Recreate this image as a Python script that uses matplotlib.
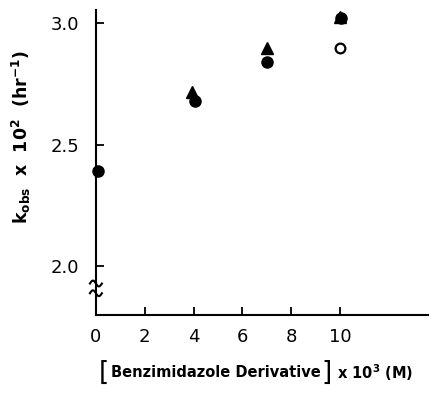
import matplotlib
matplotlib.use("Agg")
import matplotlib.pyplot as plt
import numpy as np

# data
conc_circle = [0.08, 4.05, 7.0, 10.05]
k_circle = [2.39, 2.677, 2.84, 3.02]
conc_tri = [3.95, 7.0, 10.0]
k_tri = [2.715, 2.895, 3.025]
conc_open = [10.0]
k_open = [2.895]

fig = plt.figure(figsize=(4.34, 3.93), dpi=100)
ax = fig.add_axes([0.221, 0.198, 0.765, 0.777])

ax.plot(conc_tri, k_tri, '^', color='black', markersize=9, clip_on=False)
ax.plot(conc_circle, k_circle, 'o', color='black', markersize=8, clip_on=False)
ax.plot(conc_open, k_open, 'o', mfc='white', mec='black', mew=1.6, markersize=7, clip_on=False)

ax.set_xlim(0, 13.6)
ax.set_ylim(1.80, 3.053)
ax.set_xticks([0, 2, 4, 6, 8, 10])
ax.set_xticklabels(['0', '2', '4', '6', '8', '10'])
ax.set_yticks([2.0, 2.5, 3.0])
ax.set_yticklabels(['2.0', '2.5', '3.0'])

for s in ['top', 'right']:
    ax.spines[s].set_visible(False)
for s in ['left', 'bottom']:
    ax.spines[s].set_linewidth(1.5)
ax.tick_params(direction='in', length=6, width=1.3, labelsize=13)
ax.tick_params(axis='y', pad=12)
ax.tick_params(axis='x', pad=9)

# axis break squiggles
t = np.linspace(0, 1, 30)
wx = -0.018 + 0.036 * t
wy = 0.012 * np.sin(2 * np.pi * t)
for yb in [1.93, 1.89]:
    ax.plot(wx, yb + wy, color='black', lw=1.5, clip_on=False,
            transform=ax.get_yaxis_transform())

ax.set_ylabel(r'k$_{\mathbf{obs}}$  x  10$^{\mathbf{2}}$  (hr$^{\mathbf{-1}}$)',
              fontsize=12.5, fontweight='bold', va='center')
ax.yaxis.set_label_coords(-0.223, 0.584)

# x label with tall brackets
fig.text(0.227, 0.052, '[', fontsize=19, va='center', ha='left')
fig.text(0.256, 0.052, 'Benzimidazole Derivative', fontsize=10.5, va='center',
         ha='left', fontweight='bold')
fig.text(0.740, 0.052, ']', fontsize=19, va='center', ha='left')
fig.text(0.776, 0.052, r'x 10$^{\mathbf{3}}$ (M)', fontsize=10.5, va='center',
         ha='left', fontweight='bold')

plt.savefig('out.png', dpi=100)
